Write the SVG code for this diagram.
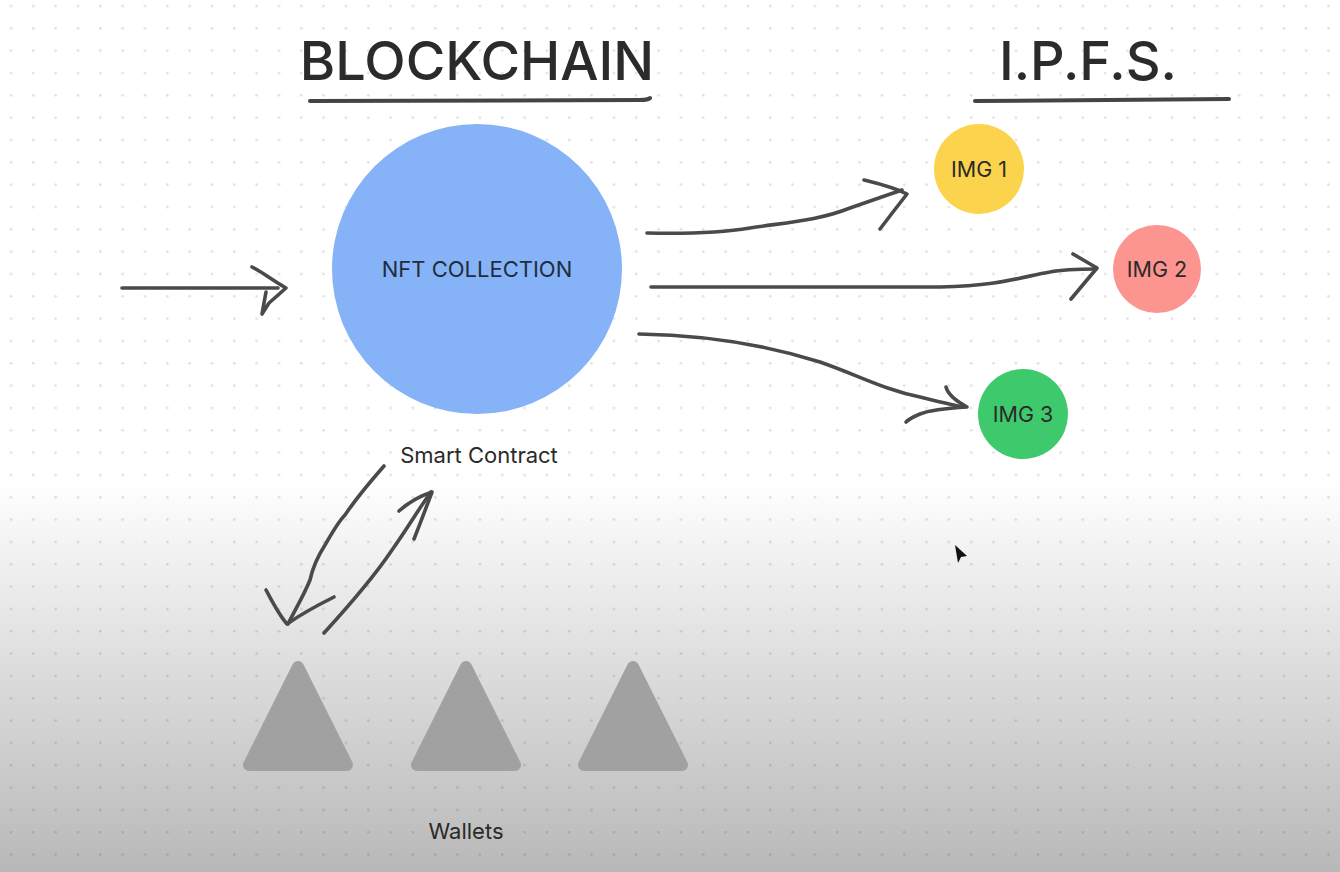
<svg xmlns="http://www.w3.org/2000/svg" width="1340" height="872" viewBox="0 0 1340 872">
<defs>
<linearGradient id="bg" x1="0" y1="0" x2="0" y2="872" gradientUnits="userSpaceOnUse">
<stop offset="0" stop-color="#ffffff"/>
<stop offset="0.55" stop-color="#ffffff"/>
<stop offset="0.72" stop-color="#e4e4e4"/>
<stop offset="1" stop-color="#b8b8b8"/>
</linearGradient>
<pattern id="dots" x="0" y="-5" width="22.33" height="22.33" patternUnits="userSpaceOnUse">
<circle cx="11" cy="11" r="1.3" fill="#000" fill-opacity="0.12"/>
</pattern>
<style>
.title{font-family:Inter,"Liberation Sans",sans-serif;font-size:54px;font-weight:500;fill:#2b2b2b;text-anchor:middle}
.lbl{font-family:Inter,"Liberation Sans",sans-serif;font-size:21.5px;fill:#2a2a2a;text-anchor:middle}
.ink{fill:none;stroke:#4a4a4a;stroke-width:3.6;stroke-linecap:round;stroke-linejoin:round}
.ul{fill:none;stroke:#444;stroke-width:4;stroke-linecap:round}
.tri{fill:#a1a1a1;stroke:#a1a1a1;stroke-width:12;stroke-linejoin:round}
</style>
</defs>
<rect width="1340" height="872" fill="url(#bg)"/>
<rect width="1340" height="872" fill="url(#dots)"/>

<g id="title-blockchain">
<text class="title" x="477" y="80">BLOCKCHAIN</text>
<path class="ul" d="M310,101 L640,100 Q648,100 650,98"/>
</g>
<g id="title-ipfs">
<text class="title" x="1088" y="80">I.P.F.S.</text>
<path class="ul" d="M975,101 L1229,99"/>
</g>

<g id="nft-collection">
<circle cx="477" cy="269" r="145" fill="#86b3f8"/>
<text class="lbl" x="477" y="277" style="fill:#1f2d3d;font-size:22px">NFT COLLECTION</text>
<text class="lbl" x="479" y="463" style="font-size:22px">Smart Contract</text>
</g>

<g id="img1">
<circle cx="979" cy="169" r="45" fill="#fcd34c"/>
<text class="lbl" x="979" y="177">IMG 1</text>
</g>
<g id="img2">
<circle cx="1157" cy="269" r="44" fill="#fc948f"/>
<text class="lbl" x="1157" y="277">IMG 2</text>
</g>
<g id="img3">
<circle cx="1023" cy="414" r="45" fill="#3fc96d"/>
<text class="lbl" x="1023" y="422">IMG 3</text>
</g>

<g id="wallets">
<polygon class="tri" points="298,667 249,765 347,765"/>
<polygon class="tri" points="466,667 417,765 515,765"/>
<polygon class="tri" points="633,667 584,765 682,765"/>
<text class="lbl" x="466" y="839" style="font-size:22px">Wallets</text>
</g>

<g id="connectors">
<path class="ink" d="M122,288 L278,288"/>
<path class="ink" d="M252,267 C262,272 275,282 286,288 L269,303 L262,314 L266,292"/>
<path class="ink" d="M647,233 C690,234 720,233 750,228 C790,222 820,220 850,208 C870,201 885,196 902,190"/>
<path class="ink" d="M864,180 C876,183 893,187 907,194 L893,212 L880,229"/>
<path class="ink" d="M651,287 L940,287 C1000,286 1025,276 1050,272 C1065,269 1080,269 1096,269"/>
<path class="ink" d="M1073,254 L1097,268 L1071,299"/>
<path class="ink" d="M639,334 C700,335 760,343 820,362 C860,376 885,390 920,397 C935,401 950,404 962,407"/>
<path class="ink" d="M946,387 C948,395 956,401 967,407 C950,408 930,410 920,414 C913,417 909,419 906,422"/>
<path class="ink" d="M384,466 C370,482 355,500 345,515 C338,522 332,533 325,545 C318,556 313,566 310,580 C304,595 295,610 288,624"/>
<path class="ink" d="M266,590 C273,603 279,615 287,624 C300,615 318,605 334,597"/>
<path class="ink" d="M324,633 C345,610 372,580 392,550 C405,532 418,510 431,492"/>
<path class="ink" d="M399,511 C408,503 420,496 432,492 C426,508 420,524 414,539"/>
</g>

<g id="cursor">
<polygon points="955,545 967,556 961,557 958,563" fill="#111"/>
</g>
</svg>
